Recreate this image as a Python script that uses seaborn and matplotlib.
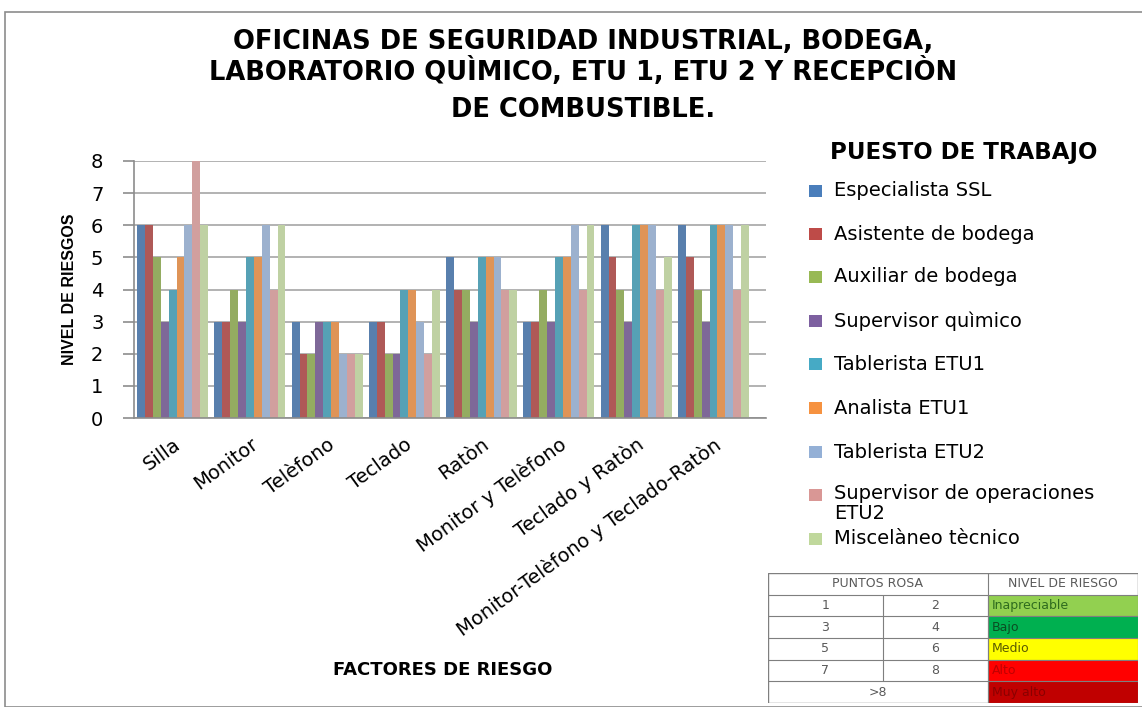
import pandas as pd
import matplotlib.pyplot as plt
import seaborn as sns
from matplotlib.patches import Rectangle

factores = ['Silla', 'Monitor', 'Telèfono', 'Teclado', 'Ratòn', 'Monitor y Telèfono',
            'Teclado y Ratòn', 'Monitor-Telèfono y Teclado-Ratòn']
puestos = ['Especialista SSL', 'Asistente de bodega', 'Auxiliar de bodega', 'Supervisor quìmico',
           'Tablerista ETU1', 'Analista ETU1', 'Tablerista ETU2',
           'Supervisor de operaciones\nETU2', 'Miscelàneo tècnico']

especialista_ssl = [6, 3, 3, 3, 5, 3, 6, 6]
asistente_bodega = [6, 3, 2, 3, 4, 3, 5, 5]
auxiliar_bodega = [5, 4, 2, 2, 4, 4, 4, 4]
supervisor_quimico = [3, 3, 3, 2, 3, 3, 3, 3]
tablerista_etu1 = [4, 5, 3, 4, 5, 5, 6, 6]
analista_etu1 = [5, 5, 3, 4, 5, 5, 6, 6]
tablerista_etu2 = [6, 6, 2, 3, 5, 6, 6, 6]
supervisor_operaciones = [8, 4, 2, 2, 4, 4, 4, 4]
miscelaneo_tecnico = [6, 6, 2, 4, 4, 6, 5, 6]

series = [especialista_ssl, asistente_bodega, auxiliar_bodega, supervisor_quimico,
          tablerista_etu1, analista_etu1, tablerista_etu2, supervisor_operaciones,
          miscelaneo_tecnico]

colores = ['#4A7EBB', '#BE4B48', '#98B954', '#7D60A0', '#46AAC5',
           '#F69240', '#94B0D6', '#D99795', '#C0D89C']

tabla_puntos = [['1', '2'], ['3', '4'], ['5', '6'], ['7', '8'], ['>8']]
tabla_nivel = ['Inapreciable', 'Bajo', 'Medio', 'Alto', 'Muy alto']
tabla_fondo = ['#92D050', '#00B050', '#FFFF00', '#FF0000', '#C00000']
tabla_texto = ['#2E6B1E', '#0B4D22', '#5A5A00', '#C00000', '#8A0000']

rows = []
for p, vals in zip(puestos, series):
    for f, v in zip(factores, vals):
        rows.append({'factor': f, 'puesto': p, 'nivel': v})
df = pd.DataFrame(rows)

sns.set_style('white')
plt.rcParams['font.family'] = ['DejaVu Sans']
for k in ['text.color', 'axes.labelcolor', 'xtick.color', 'ytick.color']:
    plt.rcParams[k] = 'black'

W, H = 1142, 707
fig = plt.figure(figsize=(W / 100, H / 100), dpi=100)

# outer frame
fig.patches.append(Rectangle((5 / W, 0), 1.2, 1 - 12 / H, transform=fig.transFigure,
                             fill=False, edgecolor='#8C8C8C', linewidth=1.2))

ax = fig.add_axes([134 / W, (H - 418) / H, 632 / W, (418 - 161) / H])
sns.barplot(data=df, x='factor', y='nivel', hue='puesto', palette=colores,
            width=0.92, ax=ax, edgecolor='none', legend=False)
ax.set_xlim(-0.5, 7.68)
ax.set_ylim(0, 8)
ax.set_yticks(range(9))
ax.yaxis.grid(True, color='#A6A6A6', linewidth=1.2)
ax.set_axisbelow(True)
for s in ['top', 'right']:
    ax.spines[s].set_visible(False)
for s in ['left', 'bottom']:
    ax.spines[s].set_color('#8C8C8C')
    ax.spines[s].set_linewidth(1.2)

ax.set_xticks(range(len(factores)))
ax.set_xticklabels(factores, rotation=36, ha='right', rotation_mode='anchor', fontsize=14)
ax.tick_params(axis='x', length=0, pad=12)
ax.set_xticks([i - 0.5 for i in range(len(factores) + 1)], minor=True)
ax.tick_params(axis='x', which='minor', length=5, color='#8C8C8C', width=1.2)
ax.tick_params(axis='y', labelsize=14, length=8, pad=14, color='#8C8C8C', width=1.2, left=True)
ax.set_xlabel('')
ax.set_ylabel('NIVEL DE RIESGOS', fontsize=11.5, fontweight='bold', labelpad=10,
              family='Liberation Sans')
fig.text(443 / W, 1 - 670 / H, 'FACTORES DE RIESGO', fontsize=13, fontweight='bold',
         ha='center', va='center')

fig.text(583 / W, 1 - 42 / H, 'OFICINAS DE SEGURIDAD INDUSTRIAL, BODEGA,', fontsize=18.5,
         fontweight='bold', ha='center', va='center')
fig.text(583 / W, 1 - 72 / H, 'LABORATORIO QUÌMICO, ETU 1, ETU 2 Y RECEPCIÒN', fontsize=18.5,
         fontweight='bold', ha='center', va='center')
fig.text(583 / W, 1 - 110 / H, 'DE COMBUSTIBLE.', fontsize=18.5,
         fontweight='bold', ha='center', va='center')

# legend drawn by hand to match the spacing of the original
fig.text(964 / W, 1 - 152 / H, 'PUESTO DE TRABAJO', fontsize=16.5, fontweight='bold',
         ha='center', va='center')
ley_y = [191, 234, 277, 321, 364, 408, 452, 495, 539]
for y, p, c in zip(ley_y, puestos, colores):
    fig.patches.append(Rectangle((809 / W, 1 - (y + 6) / H), 13 / W, 12 / H,
                                 transform=fig.transFigure, facecolor=c, edgecolor='none'))
    if '\n' in p:
        fig.text(834 / W, 1 - (y - 11) / H, p, fontsize=14, ha='left', va='top', linespacing=1.05)
    else:
        fig.text(834 / W, 1 - y / H, p, fontsize=14, ha='left', va='center')

# risk table
tx = fig.add_axes([768 / W, (H - 703) / H, 370 / W, 130 / H])
tx.set_xlim(0, 370)
tx.set_ylim(130, 0)
tx.axis('off')
rh = 130 / 6
c1, c2, c3 = 115, 220, 370
tx.add_patch(Rectangle((0, 0), c3, 130, fill=False, edgecolor='#7F7F7F', linewidth=1))
tx.text(c2 / 2, rh / 2, 'PUNTOS ROSA', fontsize=9, color='#595959', ha='center', va='center')
tx.text((c2 + c3) / 2, rh / 2, 'NIVEL DE RIESGO', fontsize=9, color='#595959',
        ha='center', va='center')
for i, (pts, niv, fondo, col) in enumerate(zip(tabla_puntos, tabla_nivel, tabla_fondo, tabla_texto)):
    y0 = rh * (i + 1)
    tx.add_patch(Rectangle((c2, y0), c3 - c2, rh, facecolor=fondo, edgecolor='#7F7F7F',
                           linewidth=0.8))
    tx.plot([0, c2], [y0, y0], color='#7F7F7F', linewidth=0.8)
    if len(pts) == 2:
        tx.plot([c1, c1], [y0, y0 + rh], color='#7F7F7F', linewidth=0.8)
        tx.text(c1 / 2, y0 + rh / 2, pts[0], fontsize=9, color='#595959', ha='center', va='center')
        tx.text((c1 + c2) / 2, y0 + rh / 2, pts[1], fontsize=9, color='#595959',
                ha='center', va='center')
    else:
        tx.text(c2 / 2, y0 + rh / 2, pts[0], fontsize=9, color='#595959', ha='center', va='center')
    tx.text(c2 + 4, y0 + rh / 2, niv, fontsize=9, color=col, ha='left', va='center')
tx.plot([c2, c2], [0, 130], color='#7F7F7F', linewidth=0.8)

fig.savefig('out.png', dpi=100)
